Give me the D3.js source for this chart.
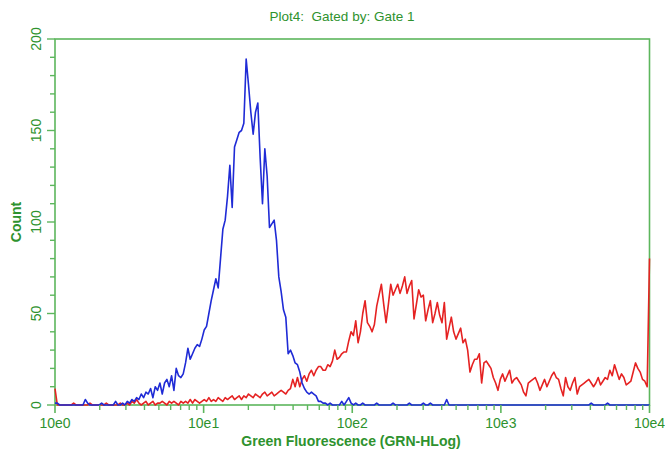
<!DOCTYPE html>
<html><head><meta charset="utf-8">
<script src="https://cdn.jsdelivr.net/npm/d3@7"></script>
<style>body{margin:0;background:#fff}svg{display:block}text{white-space:pre}</style>
</head><body><svg id="c" width="665" height="451"></svg>
<script>
const title = "Plot4:  Gated by: Gate 1";
const xTitle = "Green Fluorescence (GRN-HLog)";
const yTitle = "Count";
const xTickValues = [1, 10, 100, 1000, 10000];
const xTickLabels = ["10e0", "10e1", "10e2", "10e3", "10e4"];
const yTickLabels = [0, 50, 100, 150, 200];
const nChannels = 256;
// counts per log channel (0..255), 4 decades
const blueCounts = [
1,1,0,0,0,0,0,0,0,0, 0,0,0,3,1,0,0,0,0,0,
1,0,0,0,0,0,2,0,0,1, 0,2,1,3,2,4,3,6,4,7,
6,9,4,10,8,12,6,12,14,10, 16,8,20,16,15,17,23,31,25,28,
31,33,32,36,41,43,50,57,63,69, 64,80,96,101,114,131,108,141,145,149,
150,154,189,175,160,148,160,165,135,110, 140,125,97,99,101,90,70,62,52,48,
28,30,27,23,22,18,12,9,7,6, 7,6,5,2,2,1,1,0,1,0,
0,0,0,2,0,2,4,1,0,1, 0,0,1,0,0,0,0,0,1,0,
0,0,0,0,0,1,0,0,0,0, 0,0,1,0,0,0,0,0,1,0,
0,1,0,0,0,0,0,0,3,0, 0,0,0,0,0,0,0,0,0,0,
0,0,0,0,0,0,0,0,0,0, 0,0,0,0,0,0,0,0,0,0,
0,0,0,0,0,0,0,0,0,0, 0,0,0,0,0,0,0,0,0,0,
0,0,0,0,0,0,0,0,0,0, 1,0,0,0,0,0,0,1,0,0,
0,0,0,0,0,0,0,0,0,0, 0,0,0,0,0,0
];
const redCounts = [
9,0,0,0,0,0,0,0,1,0, 0,0,0,0,0,1,0,0,0,0,
0,0,1,0,0,0,0,0,1,0, 0,1,0,2,1,3,1,0,1,2,
0,1,2,0,1,1,2,1,0,2, 1,2,1,0,2,1,2,1,3,1,
3,2,1,2,3,2,4,2,3,2, 4,3,2,4,3,4,5,3,4,5,
3,5,4,6,5,4,6,5,4,6, 7,5,6,7,5,6,7,8,7,6,
8,9,14,10,15,10,14,16,13,17, 19,16,19,21,21,19,19,22,21,24,
30,25,26,28,29,29,35,40,38,46, 34,40,50,57,45,43,40,44,54,60,
66,55,45,55,66,60,63,66,61,65, 70,61,65,68,47,55,63,59,60,46,
52,57,45,50,56,49,45,56,36,42, 48,40,36,39,42,34,36,30,18,22,
25,25,28,12,23,24,22,20,15,12, 8,14,17,13,16,19,12,14,15,13,
11,7,5,12,13,14,15,12,8,11, 14,10,13,16,18,15,14,9,5,15,
10,8,12,15,6,10,11,12,13,14, 12,10,12,15,11,13,15,14,19,16,
22,18,14,17,15,11,12,13,18,23, 20,18,14,13,10,80
];

const m = {left: 55, right: 649.5, top: 39, bottom: 405};
const axisCol = "#5db65d", textCol = "#2e922e";
const font = "Liberation Sans, Arial, sans-serif";
const svg = d3.select("#c");

const x = d3.scaleLog().domain([1, 10000]).range([m.left, m.right]);
const y = d3.scaleLinear().domain([0, 200]).range([m.bottom, m.top]);
// channel centre value on the log axis
const chVal = d3.scaleLinear().domain([0, nChannels - 1]).range([0, 4]);
const toPts = arr => arr.map((c, i) => [Math.pow(10, chVal(i)), c]);

const line = d3.line().x(d => x(d[0])).y(d => y(d[1]));

// frame
svg.append("rect").attr("x", m.left).attr("y", m.top)
  .attr("width", m.right - m.left).attr("height", m.bottom - m.top)
  .attr("fill", "none").attr("stroke", axisCol).attr("stroke-width", 1.6);

svg.append("path").datum(toPts(redCounts)).attr("d", line)
  .attr("fill", "none").attr("stroke", "#e52222").attr("stroke-width", 1.6).attr("stroke-linejoin", "round");
svg.append("path").datum(toPts(blueCounts)).attr("d", line)
  .attr("fill", "none").attr("stroke", "#1f2bd6").attr("stroke-width", 1.6).attr("stroke-linejoin", "round");

// x axis ticks (log minor)
const minor = [];
for (let d = 0; d < 4; d++) for (let k = 2; k <= 9; k++) minor.push(k * Math.pow(10, d));
const xAx = svg.append("g").attr("transform", `translate(0,${m.bottom})`);
xAx.selectAll("line.mi").data(minor).join("line")
  .attr("x1", d => x(d)).attr("x2", d => x(d)).attr("y1", 0).attr("y2", 5)
  .attr("stroke", axisCol).attr("stroke-width", 1.4);
xAx.selectAll("line.ma").data(xTickValues).join("line")
  .attr("x1", d => x(d)).attr("x2", d => x(d)).attr("y1", 0).attr("y2", 8)
  .attr("stroke", axisCol).attr("stroke-width", 1.6);
xAx.selectAll("text").data(xTickValues).join("text")
  .attr("x", d => x(d)).attr("y", 23).attr("text-anchor", "middle")
  .attr("font-family", font).attr("font-size", 14)
  .attr("fill", textCol).text((d, i) => xTickLabels[i]);

// y axis ticks
const yAx = svg.append("g").attr("transform", `translate(${m.left},0)`);
yAx.selectAll("line").data(d3.range(0, 201, 10)).join("line")
  .attr("x1", d => d % 50 === 0 ? -8 : -5).attr("x2", 0)
  .attr("y1", d => y(d)).attr("y2", d => y(d))
  .attr("stroke", axisCol).attr("stroke-width", 1.4);
yAx.selectAll("text").data(yTickLabels).join("text")
  .attr("transform", d => `translate(-14,${y(d)}) rotate(-90)`)
  .attr("text-anchor", "middle")
  .attr("font-family", font).attr("font-size", 14)
  .attr("fill", textCol).text(d => d);

// titles
svg.append("text").attr("x", 342).attr("y", 21).attr("text-anchor", "middle")
  .attr("font-family", font).attr("font-size", 13.5)
  .attr("fill", textCol).text(title);
svg.append("text").attr("x", 351).attr("y", 446).attr("text-anchor", "middle")
  .attr("font-family", font).attr("font-size", 14).attr("font-weight", "bold")
  .attr("fill", textCol).text(xTitle);
svg.append("text").attr("transform", `translate(21,222) rotate(-90)`).attr("text-anchor", "middle")
  .attr("font-family", font).attr("font-size", 14).attr("font-weight", "bold")
  .attr("fill", textCol).text(yTitle);
</script></body></html>
